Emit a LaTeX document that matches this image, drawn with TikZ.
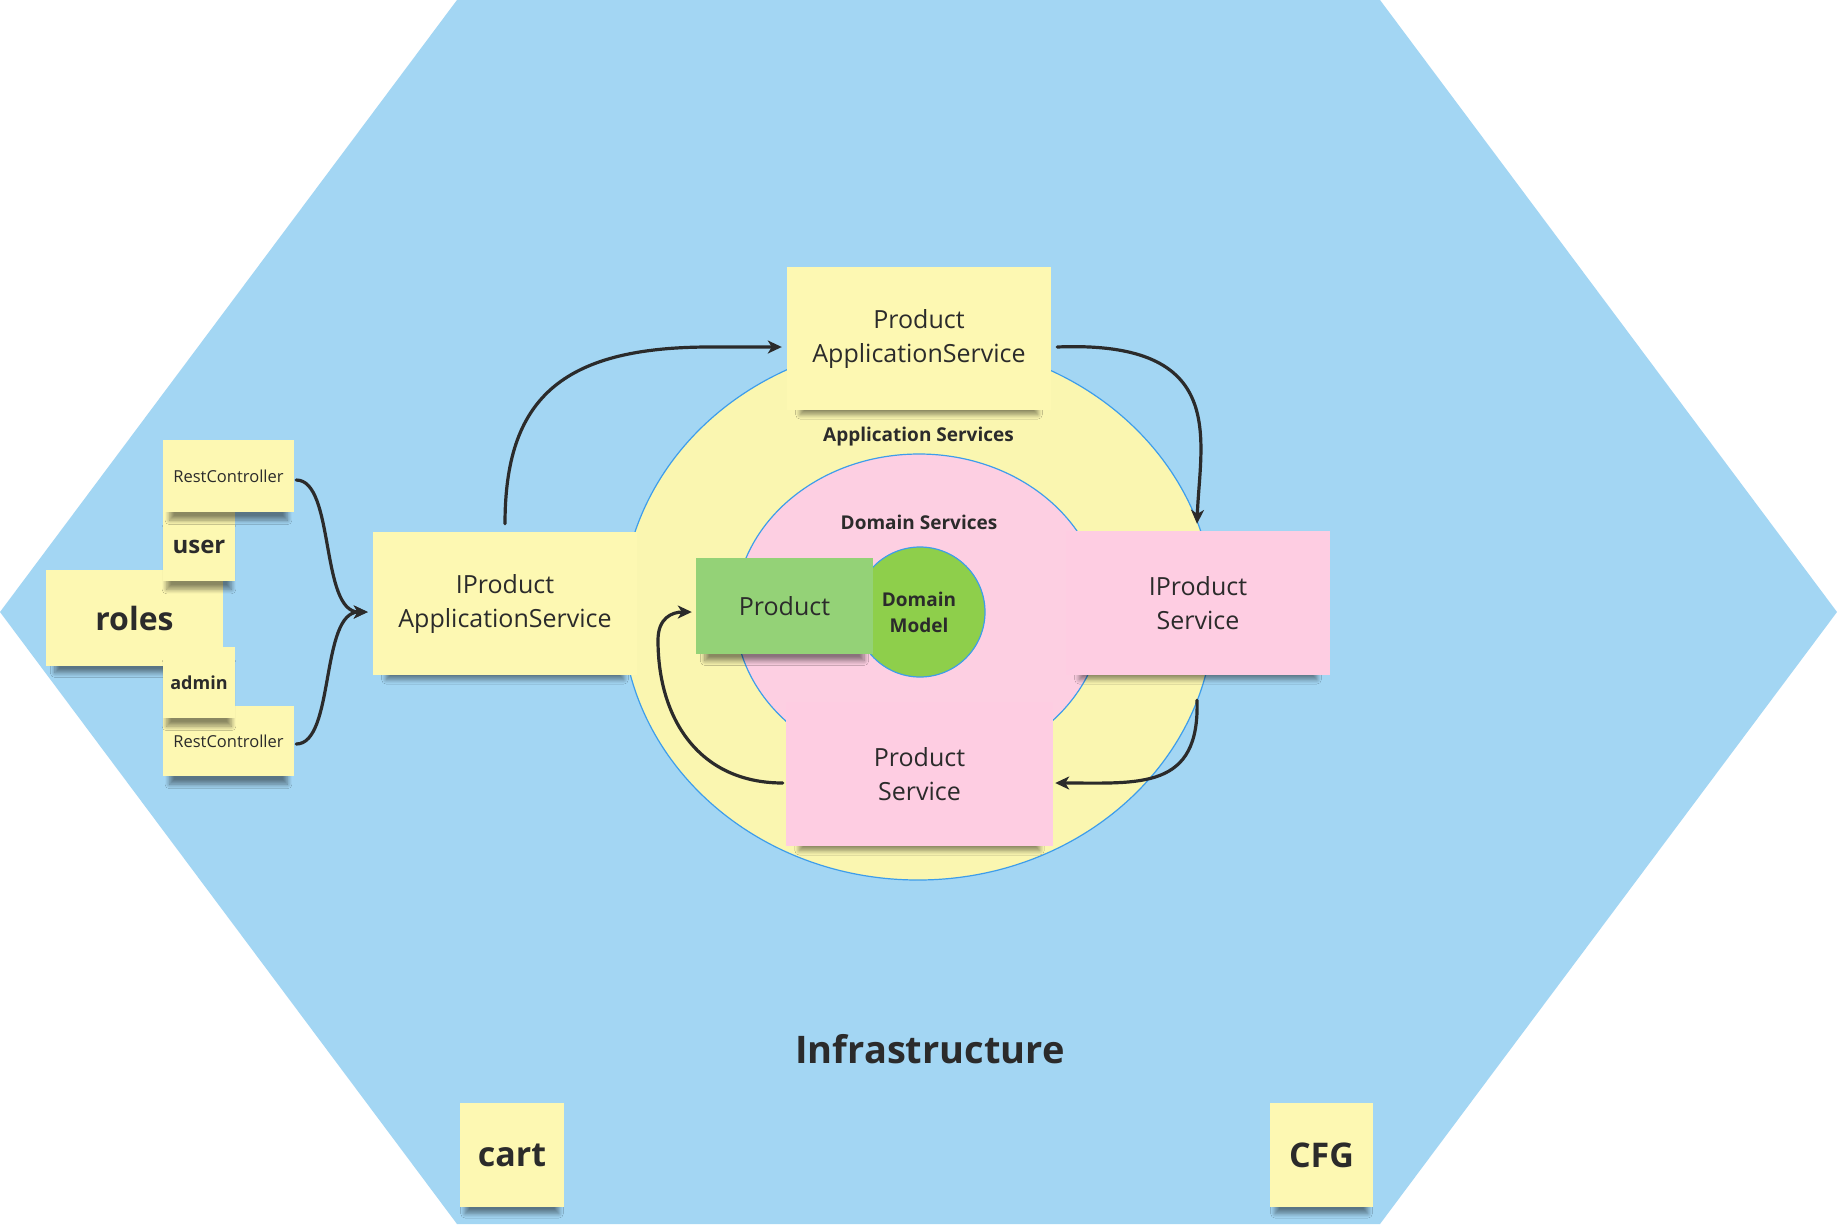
\documentclass[tikz,border=0pt]{standalone}
\usepackage{fontspec}
\setmainfont{Open Sans}
\usetikzlibrary{arrows.meta,shapes.geometric,shadows.blur}
\definecolor{hexblue}{HTML}{A3D6F3}
\definecolor{noteyellow}{HTML}{FDF8B2}
\definecolor{ringyellow}{HTML}{FAF6B0}
\definecolor{notepink}{HTML}{FECDE2}
\definecolor{ringpink}{HTML}{FDCFE2}
\definecolor{notegreen}{HTML}{94D277}
\definecolor{coregreen}{HTML}{8ECF4B}
\definecolor{ringline}{HTML}{3D9DEB}
\definecolor{ink}{HTML}{2B2B2B}
\tikzset{
  note/.style={rectangle, inner sep=0pt, align=center, text=ink,
    font=\fontsize{25}{34}\selectfont,
    blur shadow={shadow xshift=0pt, shadow yshift=-13pt, shadow scale=0.9,
      shadow blur radius=5pt, shadow blur steps=10, shadow opacity=45}},
  ynote/.style={note, fill=noteyellow},
  pnote/.style={note, fill=notepink},
  gnote/.style={note, fill=notegreen},
  ring/.style={ellipse, inner sep=0pt, draw=ringline, line width=1.2pt},
  ringlabel/.style={text=ink, inner sep=0pt, align=center,
    font=\fontsize{19}{26}\selectfont\bfseries},
  conn/.style={draw=ink, line width=3.2pt, line cap=round,
    -{Stealth[length=14pt,width=13pt,inset=4pt]}},
}
\begin{document}
\begin{tikzpicture}[x=1pt,y=-1pt]
  \useasboundingbox (0,0) rectangle (1837,1224);
  \fill[white] (0,0) rectangle (1837,1224);
  % hexagon
  \fill[hexblue] (457,0) -- (1380,0) -- (1837,612) -- (1380,1224) -- (457,1224) -- (0,612) -- cycle;
  % rings
  \node[ring, fill=ringyellow, minimum width=592pt, minimum height=538pt] (appring) at (918,611) {};
  \node[ring, fill=ringpink, minimum width=368pt, minimum height=316pt] (domring) at (919,612) {};
  \node[ring, fill=coregreen, minimum size=130pt] (core) at (920,612) {};
  \node[ringlabel] (applbl) at (918.5,437) {Application Services};
  \node[ringlabel] (domlbl) at (919,522) {Domain Services};
  \node[ringlabel] (corelbl) at (919,612) {Domain\\Model};
  % left notes
  \node[ynote, minimum width=177pt, minimum height=96pt, font=\fontsize{32}{40}\selectfont\bfseries] (roles) at (134.5,618) {roles};
  \node[ynote, minimum width=131pt, minimum height=70pt, font=\fontsize{16.5}{20}\selectfont] (rcbot) at (228.5,741) {RestController};
  \node[ynote, minimum width=72pt, minimum height=71pt, font=\fontsize{18}{22}\selectfont\bfseries] (admin) at (199,682.5) {admin};
  \node[ynote, minimum width=72pt, minimum height=69pt, font=\fontsize{24}{28}\selectfont\bfseries] (user) at (199,546.5) {user};
  \node[ynote, minimum width=131pt, minimum height=72pt, font=\fontsize{16.5}{20}\selectfont] (rctop) at (228.5,476) {RestController};
  % main notes
  \node[ynote, minimum width=264pt, minimum height=143pt] (ipas) at (505,603.5) {IProduct\\ApplicationService};
  \node[ynote, minimum width=264pt, minimum height=143pt] (pas) at (919,338.5) {Product\\ApplicationService};
  \node[pnote, minimum width=264pt, minimum height=144pt] (ips) at (1198,603) {IProduct\\Service};
  \node[pnote, minimum width=267pt, minimum height=144pt] (ps) at (919.5,774) {Product\\Service};
  \node[gnote, minimum width=177pt, minimum height=96pt] (prod) at (784.5,606) {Product};
  % bottom
  \node[text=ink, inner sep=0pt, font=\fontsize{38}{44}\selectfont\bfseries] (infra) at (930,1049) {Infrastructure};
  \node[ynote, minimum width=104pt, minimum height=104pt, font=\fontsize{34}{40}\selectfont\bfseries] (cart) at (512,1155) {cart};
  \node[ynote, minimum width=103pt, minimum height=104pt, font=\fontsize{34}{40}\selectfont\bfseries] (cfg) at (1321.5,1155) {CFG};
  % connectors
  \draw[conn] ([yshift=8pt]ipas.north) .. controls (505,400) and (560,347) .. (710,347) -- ([shift={(-5pt,-8.5pt)}]pas.west);
  \draw[conn] ([shift={(6pt,-8.5pt)}]pas.east) .. controls (1230,340) and (1200,440) .. ([shift={(-1pt,7pt)}]ips.north);
  \draw[conn] ([shift={(-1pt,-25pt)}]ips.south) .. controls (1200,790) and (1140,783) .. ([shift={(2pt,-9pt)}]ps.east);
  \draw[conn] ([shift={(-3pt,-9pt)}]ps.west) .. controls (700,783) and (658,720) .. (658,640) .. controls (658,618) and (672,612) .. ([shift={(-4pt,-6pt)}]prod.west);
  \draw[conn] ([shift={(2pt,-4pt)}]rctop.east) .. controls (335,480) and (320,612) .. ([shift={(-5pt,-8.5pt)}]ipas.west);
  \draw[conn] ([shift={(2pt,-3pt)}]rcbot.east) .. controls (335,744) and (320,612) .. ([shift={(-5pt,-8.5pt)}]ipas.west);
\end{tikzpicture}
\end{document}
